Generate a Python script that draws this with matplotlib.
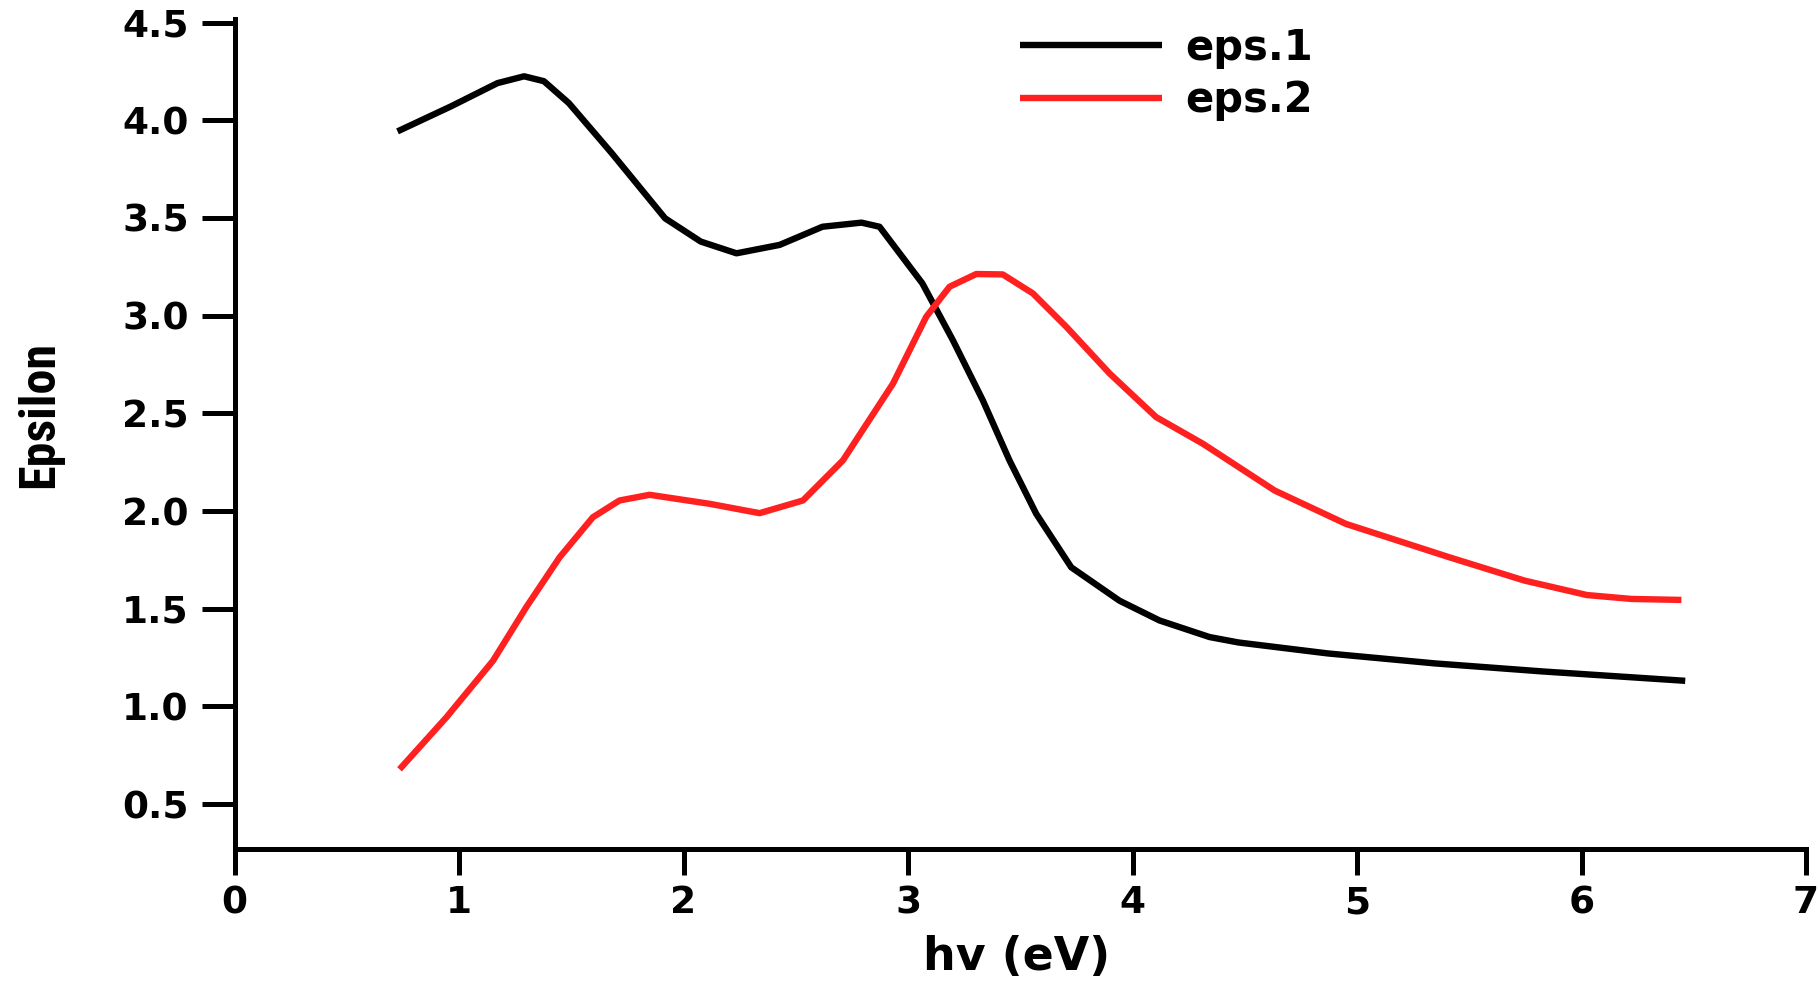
import matplotlib
matplotlib.use("Agg")
import matplotlib.pyplot as plt
from matplotlib import font_manager

# eps.1 (black)
hv1 = [0.726, 0.964, 1.171, 1.290, 1.378, 1.489, 1.680, 1.918, 2.077, 2.236,
       2.428, 2.619, 2.793, 2.873, 3.064, 3.200, 3.333, 3.452, 3.571, 3.727,
       3.942, 4.120, 4.343, 4.473, 4.871, 5.348, 5.826, 6.462]
eps1 = [3.943, 4.071, 4.190, 4.225, 4.200, 4.088, 3.832, 3.498, 3.379, 3.319,
        3.362, 3.455, 3.476, 3.455, 3.165, 2.874, 2.567, 2.259, 1.986, 1.712,
        1.541, 1.440, 1.355, 1.327, 1.271, 1.220, 1.179, 1.131]

# eps.2 (red)
hv2 = [0.735, 0.943, 1.151, 1.299, 1.448, 1.596, 1.715, 1.849, 2.116, 2.339,
       2.532, 2.710, 2.933, 3.081, 3.185, 3.304, 3.422, 3.556, 3.705, 3.898,
       4.105, 4.314, 4.633, 4.951, 5.412, 5.746, 6.024, 6.223, 6.445]
eps2 = [0.678, 0.943, 1.233, 1.507, 1.763, 1.968, 2.054, 2.083, 2.037, 1.989,
        2.054, 2.259, 2.652, 2.994, 3.148, 3.213, 3.211, 3.114, 2.943, 2.704,
        2.481, 2.344, 2.105, 1.934, 1.763, 1.644, 1.570, 1.550, 1.545]

xticks = [0, 1, 2, 3, 4, 5, 6, 7]
yticks = [0.5, 1.0, 1.5, 2.0, 2.5, 3.0, 3.5, 4.0, 4.5]

plt.rcParams['font.family'] = 'DejaVu Sans'
plt.rcParams['font.weight'] = 'bold'

# narrow font for the y label if one is installed
names = set(f.name for f in font_manager.fontManager.ttflist)
narrow = 'DejaVu Sans'
for cand in ['Liberation Sans Narrow', 'Roboto Condensed', 'Open Sans Condensed']:
    if cand in names:
        narrow = cand
        break
ylab_size = 36 if narrow != 'DejaVu Sans' else 30

fig = plt.figure(figsize=(18.18, 9.82), dpi=100)
ax = fig.add_axes([0.129, 0.1354, 0.8644, 0.8456])

ax.plot(hv1, eps1, color='black', linewidth=4.6, label='eps.1',
        solid_joinstyle='round', solid_capstyle='butt')
ax.plot(hv2, eps2, color='#ff2020', linewidth=4.6, label='eps.2',
        solid_joinstyle='round', solid_capstyle='butt')

ax.set_xlim(0, 7)
ax.set_ylim(0.27, 4.52)
ax.set_xticks(xticks)
ax.set_yticks(yticks)
ax.set_xticklabels([str(t) for t in xticks])
ax.set_yticklabels(['%.1f' % t for t in yticks])

for s in ['top', 'right']:
    ax.spines[s].set_visible(False)
for s in ['left', 'bottom']:
    ax.spines[s].set_linewidth(3.6)

ax.tick_params(axis='y', length=24, width=3.6, pad=9, labelsize=27)
ax.tick_params(axis='x', length=19, width=3.6, pad=7, labelsize=27)

ax.set_xlabel('hv (eV)', fontsize=33, fontweight='bold', va='center')
ax.xaxis.set_label_coords(0.498, -0.131)
ax.set_ylabel('Epsilon', fontsize=ylab_size, fontweight='bold', family=narrow,
              va='center')
ax.yaxis.set_label_coords(-0.124, 0.523)

ax.legend(loc='upper left', bbox_to_anchor=(0.5, 0.99), frameon=False,
          fontsize=30, handlelength=3.4, handletextpad=0.55, labelspacing=0.25,
          borderpad=0, borderaxespad=0)

fig.savefig('out.png', dpi=100)
